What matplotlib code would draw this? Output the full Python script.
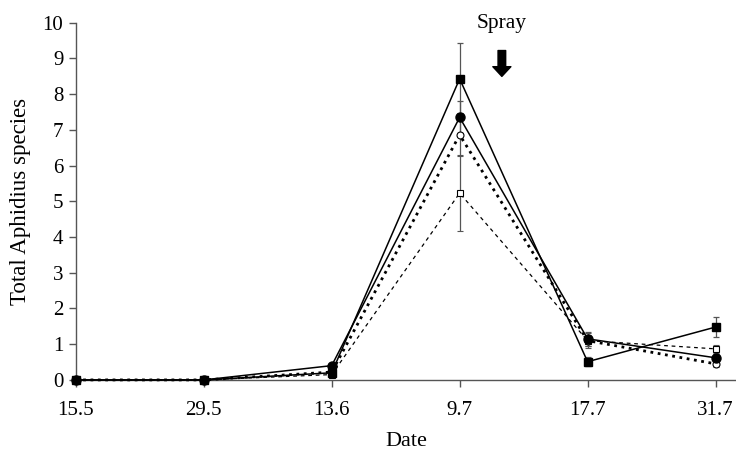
import matplotlib
matplotlib.use("Agg")
import matplotlib.pyplot as plt

plt.rcParams['font.family'] = ['Liberation Serif', 'DejaVu Serif']

dates = ['15.5', '29.5', '13.6', '9.7', '17.7', '31.7']

# four treatments
sq_filled = [0, 0, 0.2, 8.43, 0.51, 1.48]
sq_filled_err = [0, 0, 0.05, 1.0, 0.12, 0.28]
ci_filled = [0, 0, 0.4, 7.35, 1.15, 0.62]
ci_filled_err = [0, 0, 0.05, 0.45, 0.2, 0.1]
ci_open = [0, 0, 0.22, 6.86, 1.1, 0.45]
ci_open_err = [0, 0, 0.05, 0.6, 0.2, 0.08]
sq_open = [0, 0, 0.15, 5.23, 1.1, 0.87]
sq_open_err = [0, 0, 0.05, 1.07, 0.15, 0.12]

x = list(range(len(dates)))

fig = plt.figure(figsize=(7.36, 4.55), dpi=100)
ax = fig.add_axes([0.103, 0.165, 0.897, 0.785])

eb = dict(ecolor='#555555', elinewidth=0.9, capsize=2.5, capthick=0.9, clip_on=False, zorder=3)

ax.errorbar(x, sq_open, yerr=sq_open_err, color='black', lw=0.9, dashes=(3, 3),
            marker='s', ms=5, mfc='white', mec='black', mew=0.8, **eb)
ax.errorbar(x, ci_open, yerr=ci_open_err, color='black', lw=2.0, ls=':',
            marker='o', ms=5, mfc='white', mec='black', mew=0.8, **eb)
ax.errorbar(x, ci_filled, yerr=ci_filled_err, color='black', lw=1.1,
            marker='o', ms=6.5, mfc='black', mec='black', **eb)
ax.errorbar(x, sq_filled, yerr=sq_filled_err, color='black', lw=1.1,
            marker='s', ms=6, mfc='black', mec='black', **eb)

ax.set_xlim(0, 5.16)
ax.set_ylim(0, 10)
ax.set_xticks(x)
ax.set_xticklabels(dates)
ax.set_yticks(range(0, 11))

for s in ['top', 'right']:
    ax.spines[s].set_visible(False)
for s in ['left', 'bottom']:
    ax.spines[s].set_color('#555555')
    ax.spines[s].set_linewidth(1.0)
ax.tick_params(direction='out', length=5, width=1.0, color='#555555', labelsize=15)
ax.tick_params(axis='x', pad=10)
ax.tick_params(axis='y', pad=4)

ax.set_xlabel('Date', fontsize=16, labelpad=9)
ax.set_ylabel('Total Aphidius species', fontsize=16.5, labelpad=8)

# spray arrow
ax.text(3.33, 9.97, 'Spray', ha='center', va='center', fontsize=15.5)
ax.annotate('', xy=(3.33, 8.42), xytext=(3.33, 9.3),
            arrowprops=dict(arrowstyle='simple,head_width=1.3,head_length=0.7,tail_width=0.55',
                            color='black'), annotation_clip=False)

fig.savefig('out.png', dpi=100)
